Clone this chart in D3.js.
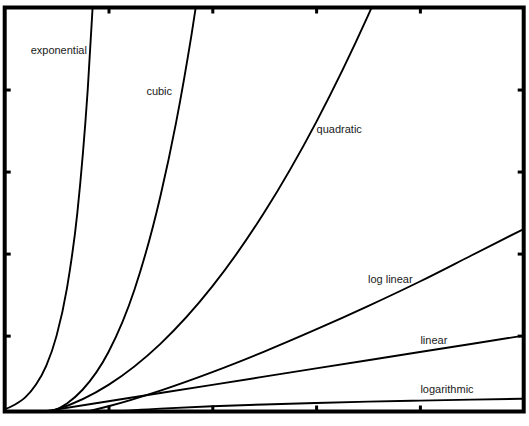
<!DOCTYPE html>
<html>
<head>
<meta charset="utf-8">
<script src="https://cdn.jsdelivr.net/npm/d3@7"></script>
<style>
  html, body { margin: 0; padding: 0; background: #ffffff; }
  svg { display: block; }
</style>
</head>
<body>
<svg id="chart" width="529" height="426"></svg>
<script>
// ---- data ----
const seriesNames = ["exponential", "cubic", "quadratic", "log linear", "linear", "logarithmic"];

const exponentialX = [0, 0.2, 0.4, 0.6, 0.8, 1.0, 1.2, 1.4, 1.6, 1.75];
const exponentialY = [1, 1.6, 2.5, 4.0, 6.3, 10, 15.8, 25, 40, 56];

const cubicX = [0, 0.5, 0.9, 1.2, 1.5, 2, 2.5, 3, 3.3, 3.6, 3.8];
const cubicY = [0, 0.13, 0.73, 1.73, 3.4, 8, 15.6, 27, 35.9, 46.7, 54.9];

const quadraticX = [0, 1, 2, 3, 4, 5, 6, 7, 7.3];
const quadraticY = [0, 1, 4, 9, 16, 25, 36, 49, 53.3];

const logLinearX = [0.5, 1, 2, 3, 4, 5, 6, 7, 8, 9, 10];
const logLinearY = [-0.35, 0, 1.39, 3.3, 5.55, 8.05, 10.75, 13.6, 16.6, 19.8, 23.0];

const linearX = [0, 2, 4, 6, 8, 10];
const linearY = [0, 2, 4, 6, 8, 10];

const logarithmicX = [0.5, 1, 2, 3, 4, 5, 6, 7, 8, 9, 10];
const logarithmicY = [-0.69, 0, 0.69, 1.1, 1.39, 1.61, 1.79, 1.95, 2.08, 2.2, 2.3];

const xTickValues = [2, 4, 6, 8];
const yTickValues = [10, 20, 30, 40];

// label anchor points in data units
const labelX = [0.50, 2.73, 6.01, 7.00, 8.01, 8.01];
const labelY = [44.35, 39.35, 34.66, 16.42, 8.98, 3.01];

// ---- layout ----
const box = { left: 4.7, right: 523.7, top: 7.5, bottom: 411.5 };

const x = d3.scaleLinear().domain([0, 10]).range([box.left, box.right]);
const y = d3.scaleLinear().domain([0.75, 50]).range([box.bottom, box.top]);

const svg = d3.select("#chart");

svg.append("defs").append("clipPath").attr("id", "plotclip")
  .append("rect")
  .attr("x", box.left).attr("y", box.top)
  .attr("width", box.right - box.left).attr("height", box.bottom - box.top);

const series = [
  { xs: exponentialX, ys: exponentialY },
  { xs: cubicX, ys: cubicY },
  { xs: quadraticX, ys: quadraticY },
  { xs: logLinearX, ys: logLinearY },
  { xs: linearX, ys: linearY },
  { xs: logarithmicX, ys: logarithmicY }
].map((s, i) => ({
  name: seriesNames[i],
  points: s.xs.map((xv, j) => ({ x: xv, y: s.ys[j] })),
  lx: labelX[i], ly: labelY[i]
}));

const line = d3.line()
  .x(d => x(d.x))
  .y(d => y(d.y))
  .curve(d3.curveMonotoneX);

svg.append("g").attr("clip-path", "url(#plotclip)")
  .selectAll("path")
  .data(series)
  .join("path")
  .attr("d", d => line(d.points))
  .attr("fill", "none")
  .attr("stroke", "#000")
  .attr("stroke-width", 1.9)
  .attr("stroke-linejoin", "round");

// labels
svg.append("g")
  .selectAll("text")
  .data(series)
  .join("text")
  .attr("x", d => x(d.lx))
  .attr("y", d => y(d.ly))
  .attr("font-family", "'Liberation Sans', Arial, Helvetica, sans-serif")
  .attr("font-size", 11)
  .attr("fill", "#1a1a1a")
  .text(d => d.name);

// ticks on all four sides, pointing inward, no labels
function styleAxis(g) {
  g.select(".domain").remove();
  g.selectAll(".tick line").attr("stroke", "#000").attr("stroke-width", 3);
  g.selectAll(".tick text").remove();
}
const tick = 6;
svg.append("g").attr("transform", `translate(0,${box.bottom})`)
  .call(d3.axisBottom(x).tickValues(xTickValues).tickSize(-tick).tickFormat(""))
  .call(styleAxis);
svg.append("g").attr("transform", `translate(0,${box.top})`)
  .call(d3.axisTop(x).tickValues(xTickValues).tickSize(-tick).tickFormat(""))
  .call(styleAxis);
svg.append("g").attr("transform", `translate(${box.left},0)`)
  .call(d3.axisLeft(y).tickValues(yTickValues).tickSize(-tick).tickFormat(""))
  .call(styleAxis);
svg.append("g").attr("transform", `translate(${box.right},0)`)
  .call(d3.axisRight(y).tickValues(yTickValues).tickSize(-tick).tickFormat(""))
  .call(styleAxis);

// frame
svg.append("rect")
  .attr("x", box.left).attr("y", box.top)
  .attr("width", box.right - box.left).attr("height", box.bottom - box.top)
  .attr("fill", "none")
  .attr("stroke", "#000")
  .attr("stroke-width", 4);
</script>
</body>
</html>
